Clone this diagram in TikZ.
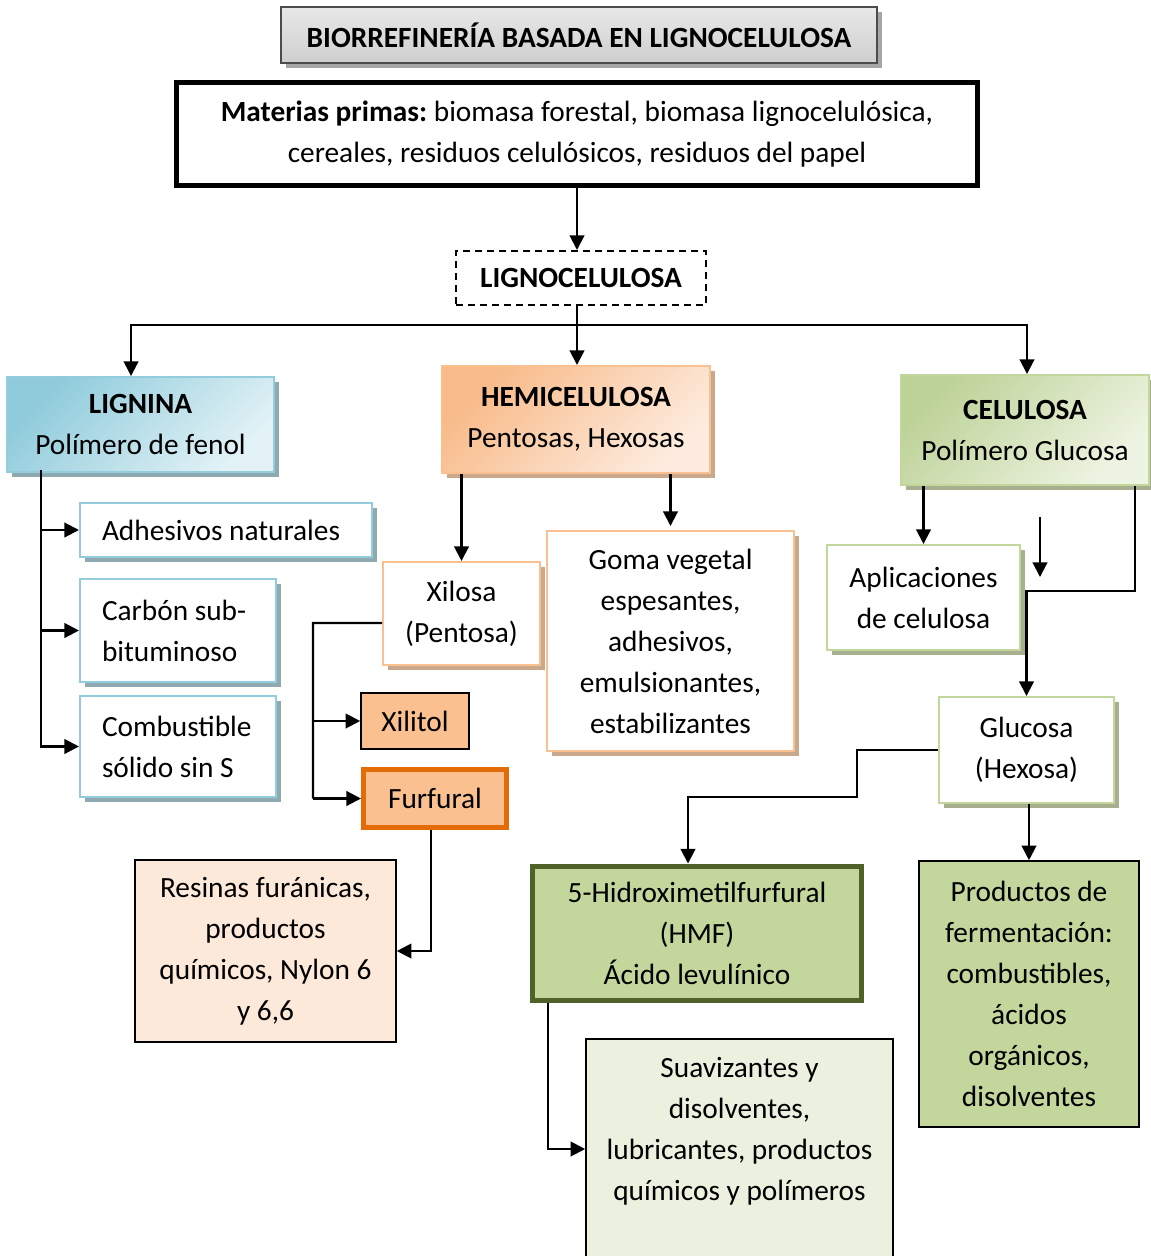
\documentclass[tikz,border=0pt]{standalone}
\usepackage{fontspec}
\setmainfont{Carlito}
\usetikzlibrary{arrows.meta,shadows}
\frenchspacing

% palette
\definecolor{ligA}{HTML}{8FCBDB}
\definecolor{ligB}{HTML}{E2F2F6}
\definecolor{ligBorder}{HTML}{93CDDD}
\definecolor{ligShadow}{HTML}{8FA9B1}
\definecolor{hemA}{HTML}{F8BA88}
\definecolor{hemB}{HTML}{FDECDF}
\definecolor{hemBorder}{HTML}{FAC090}
\definecolor{hemShadow}{HTML}{C9A88C}
\definecolor{celA}{HTML}{BDD297}
\definecolor{celB}{HTML}{EEF4E3}
\definecolor{celBorder}{HTML}{C3D69B}
\definecolor{celShadow}{HTML}{A6B08E}
\definecolor{orangeFill}{HTML}{FAC090}
\definecolor{orangeDark}{HTML}{E36C09}
\definecolor{peach}{HTML}{FDE9D9}
\definecolor{olive}{HTML}{C3D69B}
\definecolor{oliveDark}{HTML}{4F6228}
\definecolor{paleGreen}{HTML}{EBF1DE}

\begin{document}
\begin{tikzpicture}[x=0.75pt,y=-0.75pt,
  every node/.style={font=\fontsize{22}{30.75}\selectfont, inner sep=0pt, align=center},
  wh/.style 2 args={minimum width=#1*0.75pt, minimum height=#2*0.75pt},
  shadowed/.style={drop shadow={shadow xshift=3.5pt, shadow yshift=-3.5pt, fill=#1, opacity=1}},
  lefttext/.style={text width=#1*0.75pt, align=flush left, inner xsep=16.5pt},
  titlebox/.style={draw=gray!60!black, line width=1.5pt, top color=gray!18, bottom color=gray!38,
    shadowed=gray!70, font=\fontsize{22}{26}\selectfont\bfseries},
  ligbox/.style={draw=ligBorder, line width=1.5pt, top color=ligA, bottom color=ligB, shading angle=45, shadowed=ligShadow},
  hembox/.style={draw=hemBorder, line width=1.5pt, top color=hemA, bottom color=hemB, shading angle=45, shadowed=hemShadow},
  celbox/.style={draw=celBorder, line width=1.5pt, top color=celA, bottom color=celB, shading angle=45, shadowed=celShadow},
  ligchild/.style={draw=ligBorder, line width=1.5pt, fill=white, shadowed=ligShadow},
  hemchild/.style={draw=hemBorder, line width=1.5pt, fill=white, shadowed=hemShadow},
  celchild/.style={draw=celBorder, line width=1.5pt, fill=white, shadowed=celShadow},
  plainbox/.style={draw=black, line width=1.2pt},
  wire/.style={line width=1.6pt},
  arr/.style={line width=1.6pt, -{Triangle[length=11pt,width=11pt]}}
]
\useasboundingbox (0,0) rectangle (1150,1256);

% heading and raw material
\node[titlebox, wh={596}{56}] (title) at (579,35) {BIORREFINERÍA BASADA EN LIGNOCELULOSA};
\node[draw=black, line width=3.75pt, wh={801}{103}] (mp) at (577,134)
  {\textbf{Materias primas:} biomasa forestal, biomasa lignocelulósica,\\cereales, residuos celulósicos, residuos del papel};
\node[draw=black, dashed, dash pattern=on 5pt off 4pt, line width=1.5pt, wh={250}{54}] (lig) at (581,278) {\textbf{LIGNOCELULOSA}};

% the three fractions
\node[ligbox, wh={267}{95}] (lignina) at (140.5,424.5) {\textbf{LIGNINA}\\Polímero de fenol};
\node[hembox, wh={268}{107}] (hemi) at (576,419.5) {\textbf{HEMICELULOSA}\\Pentosas, Hexosas};
\node[celbox, wh={248}{110}] (celu) at (1025,430) {\textbf{CELULOSA}\\Polímero Glucosa};

% lignin products
\node[ligchild, wh={292}{54}, lefttext=248] (adh) at (226,530) {Adhesivos naturales};
\node[ligchild, wh={196}{103}, lefttext=152] (carb) at (178,630.5) {Carbón sub-\\bituminoso};
\node[ligchild, wh={196}{101}, lefttext=152] (comb) at (178,746.5) {Combustible\\sólido sin S};

% hemicellulose products
\node[hemchild, wh={157}{103}] (xil) at (461.5,613.5) {Xilosa\\(Pentosa)};
\node[hemchild, wh={247}{220}] (goma) at (670.5,641) {Goma vegetal\\espesantes,\\adhesivos,\\emulsionantes,\\estabilizantes};
\node[plainbox, fill=orangeFill, wh={108}{56}] (xilitol) at (415,721) {Xilitol};
\node[draw=orangeDark, line width=3.75pt, fill=orangeFill, wh={143}{58}] (furf) at (435,798.5) {Furfural};
\node[plainbox, fill=peach, wh={261}{182}] (res) at (265.5,951) {Resinas furánicas,\\productos\\químicos, Nylon 6\\y 6,6};

% cellulose products
\node[celchild, wh={193}{105}] (aplic) at (923.5,597.5) {Aplicaciones\\de celulosa};
\node[celchild, wh={175}{106}] (gluc) at (1026.5,750) {Glucosa\\(Hexosa)};
\node[draw=oliveDark, line width=3.75pt, fill=olive, wh={329}{134}] (hmf) at (697,933) {5-Hidroximetilfurfural\\(HMF)\\Ácido levulínico};
\node[plainbox, fill=olive, wh={220}{266}] (prod) at (1029,994) {Productos de\\fermentación:\\combustibles,\\ácidos\\orgánicos,\\disolventes};
\node[plainbox, fill=paleGreen, wh={307}{242}] (suav) at (739.5,1160) {};
\node (suavt) at (739.5,1131.5) {Suavizantes y\\disolventes,\\lubricantes, productos\\químicos y polímeros};

% junction points
\coordinate (jn) at (577,325);
\coordinate (lt) at (41,470);
\coordinate (xv) at (313,623);
\coordinate (cg) at (1135,591);
\coordinate (gh) at (857,797);
\coordinate (hs) at (548,1149);
\coordinate (fa) at (1040,517);
\coordinate (fb) at (1040,577);

% connectors
\draw[arr] (mp.south) -- (mp.south |- lig.north);
\draw[arr] (mp.south |- lig.south) -- (mp.south |- hemi.north);
\draw[arr] (jn) -| ([xshift=-7.1pt]lignina.north);
\draw[arr] (jn) -| ([xshift=1.5pt]celu.north);

\draw[wire] (lt) -- (lt |- comb.west);
\draw[arr] (lt) |- (adh.west);
\draw[arr] (lt) |- (carb.west);
\draw[arr] (lt) |- (comb.west);

\draw[arr] (xil.north |- hemi.south) -- (xil.north);
\draw[arr] (goma.north |- hemi.south) -- ([yshift=3pt]goma.north);
\draw[wire] ([yshift=-7.1pt]xil.west) -- (xv) -- (xv |- furf.west);
\draw[arr] (xv |- xilitol.west) -- (xilitol.west);
\draw[arr] (xv |- furf.west) -- (furf.west);
\draw[arr] ([xshift=-3pt]furf.south) |- (res.east);

\draw[arr] (aplic.north |- celu.south) -- (aplic.north);
\draw[arr] (fa) -- (fb);
\draw[arr] (cg |- celu.south) -- (cg) -| (gluc.north);
\draw[arr] (gluc.west) -| (gh) -| ([xshift=-6.75pt]hmf.north);
\draw[arr] (prod.north |- gluc.south) -- (prod.north);
\draw[arr] (hs |- hmf.south) -- (hs) -- (suav.west |- hs);
\end{tikzpicture}
\end{document}
